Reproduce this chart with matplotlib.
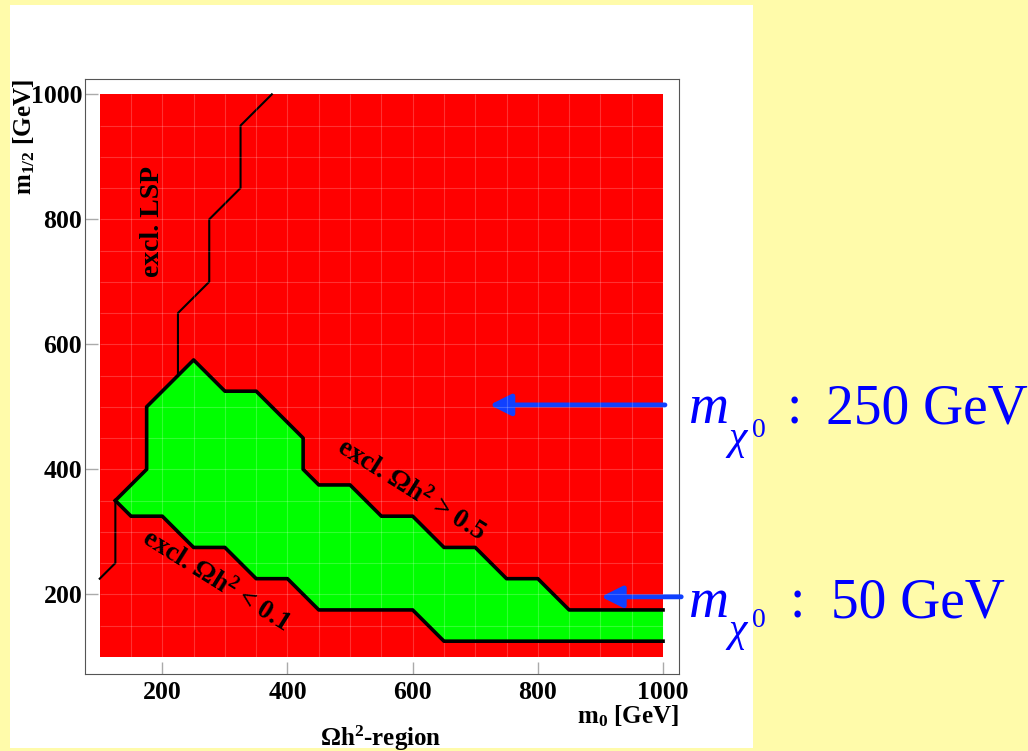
import matplotlib.pyplot as plt
import matplotlib as mpl
from matplotlib.patches import Rectangle, Polygon
import numpy as np

# %%
# cosmologically allowed Omega h^2 region in the (m0, m1/2) plane
upper_m0 = [125, 175, 175, 250, 300, 350, 425, 425, 450, 500, 550, 600, 650, 700, 750, 800, 850, 1000]
upper_m12 = [350, 400, 500, 575, 525, 525, 450, 400, 375, 375, 325, 325, 275, 275, 225, 225, 175, 175]
lower_m0 = [125, 150, 200, 250, 300, 350, 400, 450, 600, 650, 1000]
lower_m12 = [350, 325, 325, 275, 275, 225, 225, 175, 175, 125, 125]

# LSP exclusion line (hidden behind the green band in between)
lsp_lo_m0 = [100, 125, 125]
lsp_lo_m12 = [225, 250, 350]
lsp_hi_m0 = [225, 225, 275, 275, 325, 325, 375]
lsp_hi_m12 = [550, 650, 700, 800, 850, 950, 1000]

# neutralino mass markers (m1/2, label)
chi_m12 = [503, 196]
chi_head_m0 = [723, 901]
chi_tail_m0 = [1003, 1029]
chi_text = ['250 GeV', '50 GeV']

x_ticks = [200, 400, 600, 800, 1000]
y_ticks = [200, 400, 600, 800, 1000]
scan_lo, scan_hi, cell = 100, 1000, 50

# %%
plt.rcParams['font.family'] = ['Liberation Serif', 'DejaVu Serif']
plt.rcParams['font.weight'] = 'bold'
plt.rcParams['mathtext.fontset'] = 'custom'
plt.rcParams['mathtext.rm'] = 'Liberation Serif'
plt.rcParams['mathtext.it'] = 'Liberation Serif:italic'
plt.rcParams['mathtext.bf'] = 'Liberation Serif:bold'
plt.rcParams['mathtext.default'] = 'bf'

W, H = 1028, 751
fig = plt.figure(figsize=(W / 100, H / 100), dpi=100)
fig.patch.set_facecolor('#fffbaa')
fig.patches.append(Rectangle((10 / W, 1 - 748 / H), 743 / W, 743 / H,
                             transform=fig.transFigure, facecolor='white',
                             edgecolor='none', zorder=-5))

ax = fig.add_axes([85 / W, 1 - 674 / H, 594 / W, 595 / H])
ax.set_zorder(2)
ax.set_facecolor('white')
ax.set_xlim(76.5, 1025.5)
ax.set_ylim(72.5, 1024.5)

# red = excluded, whole scan
ax.add_patch(Rectangle((scan_lo, scan_lo), scan_hi - scan_lo, scan_hi - scan_lo,
                       facecolor='#ff0000', edgecolor='none', zorder=1))

# LSP line
ax.plot(lsp_lo_m0, lsp_lo_m12, color='black', lw=1.5, zorder=2)
ax.plot(lsp_hi_m0, lsp_hi_m12, color='black', lw=1.5, zorder=2)

# green allowed band
band = list(zip(upper_m0, upper_m12)) + list(zip(lower_m0[::-1], lower_m12[::-1]))
ax.add_patch(Polygon(band, closed=True, facecolor='#00ff00', edgecolor='none', zorder=3))

# cell grid
edges = np.arange(scan_lo + cell, scan_hi, cell)
ax.vlines(edges, scan_lo, scan_hi, color='white', alpha=0.2, lw=0.8, zorder=4)
ax.hlines(edges, scan_lo, scan_hi, color='white', alpha=0.2, lw=0.8, zorder=4)

ax.plot(upper_m0, upper_m12, color='black', lw=2.6, zorder=5)
ax.plot(lower_m0, lower_m12, color='black', lw=2.6, zorder=5)

# region labels
ax.text(184, 796, 'excl. LSP', rotation=90, ha='center', va='center', fontsize=20, zorder=6)
ax.text(597, 367, r'excl. $\Omega h^2$ > 0.5', rotation=-32, rotation_mode='anchor',
        ha='center', va='center', fontsize=19.5, zorder=6)
ax.text(286, 221, r'excl. $\Omega h^2$ < 0.1', rotation=-32, rotation_mode='anchor',
        ha='center', va='center', fontsize=19.5, zorder=6)

ax.set_xticks(x_ticks)
ax.set_yticks(y_ticks)
ax.tick_params(direction='in', length=9, width=1, color='#aaaaaa', labelsize=18.5)
ax.tick_params(axis='x', pad=5)
ax.tick_params(axis='y', pad=2)
for s in ax.spines.values():
    s.set_color('#555555')
    s.set_linewidth(0.8)

# axis titles, ROOT style
fig.text(24 / W, 1 - 79 / H, r'$\mathbf{m}_{\mathrm{1/2}}$ [GeV]', rotation=90,
         ha='center', va='top', fontsize=18)
fig.text(679 / W, 1 - 723 / H, r'$\mathbf{m}_{0}$ [GeV]', ha='right', va='baseline', fontsize=18)
fig.text(381 / W, 1 - 746 / H, r'$\Omega h^{2}$-region', ha='center', va='baseline', fontsize=18)

# neutralino mass arrows + labels
blue = '#0000ff'
for y, xh, xt in zip(chi_m12, chi_head_m0, chi_tail_m0):
    ax.annotate('', xy=(xh, y), xytext=(xt, y), annotation_clip=False,
                arrowprops=dict(arrowstyle='-|>', color='#1040ff', lw=3.5,
                                mutation_scale=32, shrinkA=0, shrinkB=0))

rows = [(423, 449, 437, 787, 826), (617, 641, 627, 790, 831)]
for (yb, ychi, yzero, xcol, xnum), txt in zip(rows, chi_text):
    fig.text(689 / W, 1 - yb / H, 'm', fontsize=40, style='italic', weight='normal',
             color=blue, va='baseline')
    fig.text(728 / W, 1 - ychi / H, 'χ', fontsize=30, style='italic', weight='normal',
             color=blue, va='baseline')
    fig.text(752 / W, 1 - yzero / H, '0', fontsize=20, weight='normal', color=blue, va='baseline')
    fig.text(xcol / W, 1 - yb / H, ':', fontsize=40, weight='normal', color=blue, va='baseline')
    fig.text(xnum / W, 1 - yb / H, txt, fontsize=40, weight='normal', color=blue, va='baseline')

fig.savefig('out.png', dpi=100)
